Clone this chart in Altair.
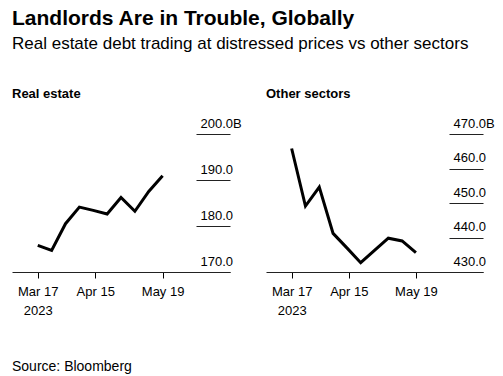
import altair as alt
import pandas as pd

dates = ["2023-03-17", "2023-03-24", "2023-03-31", "2023-04-07", "2023-04-14",
         "2023-04-21", "2023-04-28", "2023-05-05", "2023-05-12", "2023-05-19"]
real_estate = [175.8, 174.7, 180.5, 184.1, 183.4, 182.6, 186.2, 183.2, 187.5, 190.9]
other_sectors = [465.8, 449.1, 454.6, 441.2, 437.0, 432.7, 436.3, 439.8, 439.0, 435.6]
re_ticks = [170, 180, 190, 200]
os_ticks = [430, 440, 450, 460, 470]
x_tick_dates = [(2023, 3, 17), (2023, 4, 15), (2023, 5, 19)]
x_domain = [(2023, 3, 4), (2023, 6, 22)]

FONT = "Liberation Sans"


def dt(t):
    return alt.DateTime(year=t[0], month=t[1], date=t[2])


def panel(values, ticks, title, width, source=False):
    df = pd.DataFrame({"date": dates, "value": values})
    top = max(ticks)
    x = alt.X(
        "date:T",
        scale=alt.Scale(domain=[dt(d) for d in x_domain]),
        axis=alt.Axis(
            values=[dt(d) for d in x_tick_dates],
            format="%b %d",
            labelExpr="month(datum.value) == 2 ? [datum.label, timeFormat(datum.value, '%Y')] : datum.label",
            title=None, grid=False, domain=True, domainColor="#222", domainWidth=1.2,
            ticks=True, tickColor="#000", tickSize=6, labelPadding=7,
            labelFont=FONT, labelFontSize=13, labelColor="#000", labelLineHeight=19,
            labelFlush=False, labelOverlap=False,
        ),
    )
    y = alt.Y(
        "value:Q",
        scale=alt.Scale(domain=[min(ticks), top], nice=False, zero=False),
        axis=alt.Axis(
            orient="right", offset=-34, values=ticks, title=None, grid=False, domain=False,
            tickSize=34, tickColor="#222", tickWidth=1.2,
            labelExpr=f"datum.value == {top} ? format(datum.value, '.1f') + 'B' : format(datum.value, '.1f')",
            labelAlign="left", labelBaseline="alphabetic", labelPadding=-30, labelOffset=-7,
            labelFont=FONT, labelFontSize=13, labelColor="#000",
            labelOverlap=False, labelBound=False, labelFlush=False,
        ),
    )
    line = alt.Chart(df).mark_line(color="#000", strokeWidth=3, strokeJoin="miter").encode(x=x, y=y)
    layers = [line]
    if source:
        src = alt.Chart(pd.DataFrame({"t": ["Source: Bloomberg"]})).mark_text(
            align="left", baseline="middle", font=FONT, fontSize=14, color="#000"
        ).encode(text="t:N", x=alt.value(0), y=alt.value(233))
        layers.append(src)
    return alt.layer(*layers).properties(
        width=width, height=138,
        title=alt.TitleParams(title, anchor="start", font=FONT, fontSize=13,
                              fontWeight="bold", color="#000", offset=16),
    )


left = panel(real_estate, re_ticks, "Real estate", 218, source=True)
right = panel(other_sectors, os_ticks, "Other sectors", 217)

chart = alt.hconcat(left, right, spacing=36, bounds="flush").properties(
    title=alt.TitleParams(
        "Landlords Are in Trouble, Globally",
        subtitle=["Real estate debt trading at distressed prices vs other sectors"],
        anchor="start", font=FONT, fontSize=21, fontWeight="bold", color="#000",
        subtitleFont=FONT, subtitleFontSize=17, subtitleColor="#000",
        subtitlePadding=7, offset=36,
    ),
    padding={"left": 12, "top": 8, "right": 5, "bottom": 5},
).configure_view(stroke=None)

chart.save("out.html", embed_options={"renderer": "svg", "actions": False})
